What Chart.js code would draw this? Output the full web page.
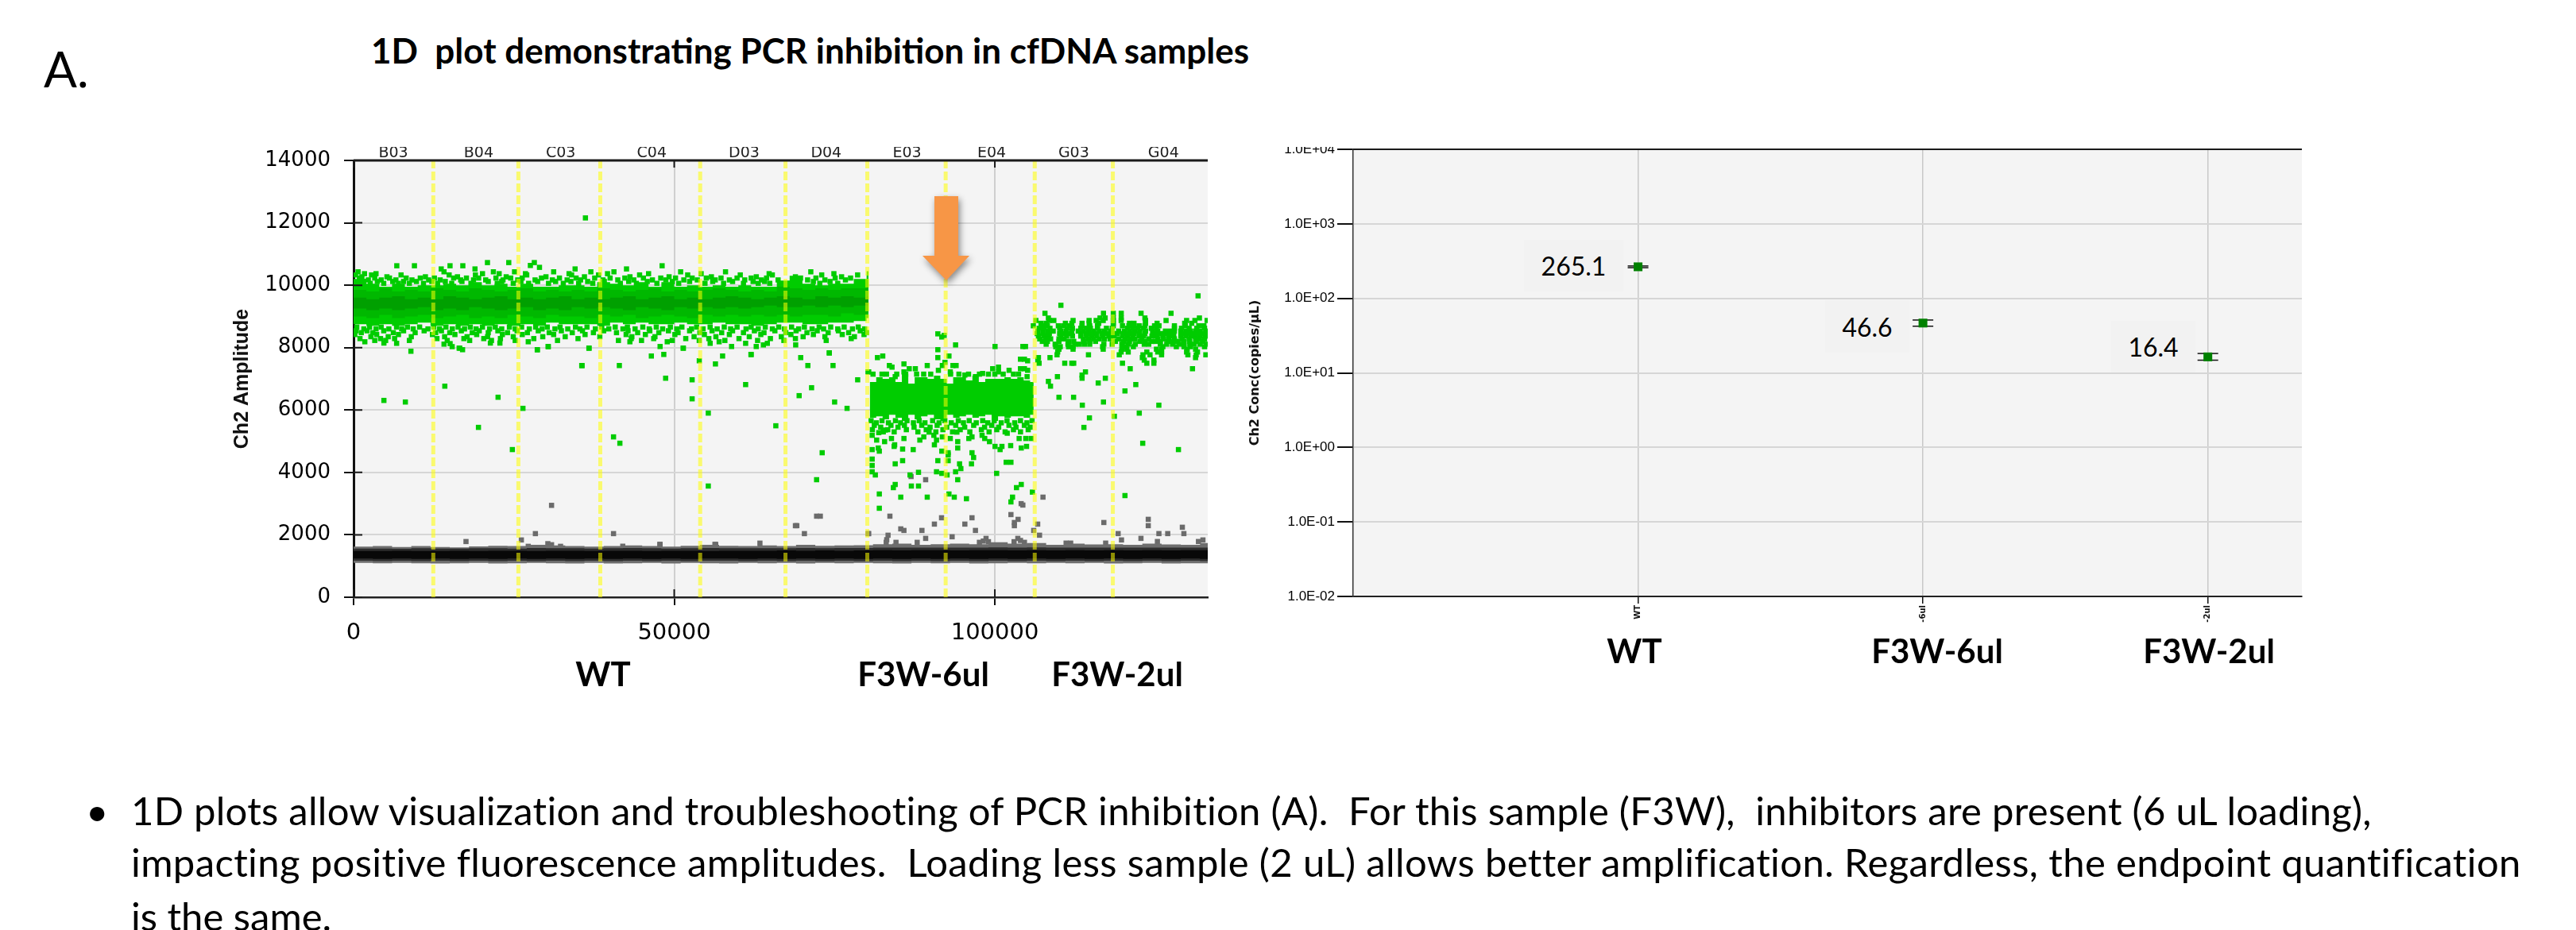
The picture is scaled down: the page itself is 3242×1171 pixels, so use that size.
<!DOCTYPE html>
<html>
<head>
<meta charset="utf-8">
<title>1D plot</title>
<script src="https://cdn.jsdelivr.net/npm/chart.js@4"></script>
<style>
    html, body { margin: 0; padding: 0; background: #fff; }
    #page { position: relative; width: 3242px; height: 1171px; overflow: hidden; font-family: Lato, sans-serif; color: #000; }
    canvas { position: absolute; display: block; }
    .txt { position: absolute; white-space: pre; line-height: 1; }
    .big { font-weight: 700; font-size: 42px; transform: translate(-50%, -50%); }
    .val { position: absolute; background: #f2f2f2; font-size: 32px; display: flex; align-items: center; justify-content: center; }
    #arrow { position: absolute; left: 1150px; top: 240px; filter: drop-shadow(2px 4px 4px rgba(0,0,0,.45)); }
</style>
</head>
<body>
<div id="page">
    <canvas id="amplitudeChart" width="1250" height="645" style="left:290px;top:185px"></canvas>
    <canvas id="concChart" width="1360" height="665" style="left:1560px;top:165px;clip-path:inset(20px 0 0 0)"></canvas>

    <svg id="arrow" width="84" height="124"><polygon points="26,7 56,7 56,82 70,82 41,113 11,82 26,82" fill="#f79646"/></svg>

    <div class="txt" style="left:55px;top:55px;font-size:62px">A.</div>
    <div class="txt" style="left:467px;top:41px;font-size:44px;font-weight:700">1D  plot demonstrating PCR inhibition in cfDNA samples</div>

    <div class="txt big" style="left:759px;top:848px">WT</div>
    <div class="txt big" style="left:1162px;top:848px">F3W-6ul</div>
    <div class="txt big" style="left:1406px;top:848px">F3W-2ul</div>
    <div class="txt big" style="left:2057px;top:819px">WT</div>
    <div class="txt big" style="left:2438px;top:819px">F3W-6ul</div>
    <div class="txt big" style="left:2780px;top:819px">F3W-2ul</div>

    <div class="val" style="left:1918px;top:302px;width:125px;height:65px">265.1</div>
    <div class="val" style="left:2297px;top:378px;width:106px;height:66px">46.6</div>
    <div class="val" style="left:2657px;top:404px;width:106px;height:65px">16.4</div>

    <div class="txt" style="left:108px;top:996px;font-size:49px">•</div>
    <div class="txt" style="left:165px;top:996px;font-size:49px;letter-spacing:.27px">1D plots allow visualization and troubleshooting of PCR inhibition (A).  For this sample (F3W),  inhibitors are present (6 uL loading),</div>
    <div class="txt" style="left:165px;top:1061px;font-size:49px;letter-spacing:.38px">impacting positive fluorescence amplitudes.  Loading less sample (2 uL) allows better amplification. Regardless, the endpoint quantification</div>
    <div class="txt" style="left:165px;top:1129px;font-size:49px">is the same.</div>
</div>

<script>
// ---- 1D plot: axis and wells ----
const xMaxEvents = 133200;
const xTicks = [0, 50000, 100000];
const wellNames = ['B03', 'B04', 'C03', 'C04', 'D03', 'D04', 'E03', 'E04', 'G03', 'G04'];
const wellCenters = [6200, 19500, 32300, 46500, 60900, 73700, 86300, 99500, 112300, 126300];
const wellDividers = [12430, 25700, 38470, 54050, 67350, 80110, 92330, 106220, 118400];

// ---- dense part of the positive droplets, read as upper/lower edges ----
const wtBandX = [0, 2000, 4000, 6000, 8000, 10000, 12000, 14000, 16000, 18000, 20000, 22000, 24000, 26000, 28000, 30000, 32000, 34000, 36000, 38000, 40000, 42000, 44000, 46000, 48000, 50000, 52000, 54000, 56000, 58000, 60000, 62000, 64000, 66000, 68000, 70000, 72000, 74000, 76000, 78000, 80000, 80300];
const wtTop = [10200, 10050, 9950, 10050, 9950, 10000, 10000, 10050, 10000, 10100, 10000, 10050, 9950, 10050, 9950, 9950, 10000, 10000, 9950, 10100, 10050, 10000, 10100, 9950, 10100, 9950, 10000, 9950, 10000, 9950, 10000, 9950, 9950, 10150, 10300, 10050, 10000, 10050, 10050, 10200, 10450, 10450];
const wtBottom = [8750, 8700, 8750, 8700, 8750, 8800, 8700, 8750, 8700, 8750, 8700, 8750, 8700, 8750, 8700, 8800, 8750, 8750, 8750, 8700, 8800, 8750, 8800, 8750, 8750, 8800, 8750, 8750, 8800, 8750, 8750, 8700, 8750, 8800, 8800, 8750, 8750, 8800, 8800, 8850, 8950, 9000];
const wtMidTop = [9850, 9800, 9900, 9800, 9850, 9800, 9900, 9850, 9800, 9900, 9850, 9800, 9850, 9900, 9800, 9850, 9800, 9850, 9800, 9900, 9850, 9800, 9850, 9900, 9800, 9850, 9800, 9850, 9900, 9850, 9800, 9850, 9800, 9950, 9900, 9850, 9900, 9850, 9900, 9900, 9950, 9950];
const wtMidBottom = [9000, 8950, 9050, 8950, 9000, 9050, 8950, 9000, 9050, 8950, 9000, 8950, 9050, 9000, 8950, 9050, 9000, 9000, 8950, 9050, 9000, 9050, 8950, 9000, 9050, 9000, 8950, 9050, 9000, 9050, 9000, 9050, 9000, 9050, 9000, 9050, 9050, 9000, 9100, 9050, 9100, 9100];
const wtCoreTop = [9600, 9550, 9600, 9650, 9550, 9600, 9550, 9650, 9600, 9550, 9600, 9650, 9550, 9600, 9550, 9600, 9650, 9550, 9600, 9550, 9600, 9650, 9550, 9600, 9650, 9550, 9600, 9550, 9600, 9650, 9600, 9550, 9600, 9650, 9600, 9550, 9650, 9600, 9650, 9600, 9650, 9650];
const wtCoreBottom = [9250, 9200, 9250, 9200, 9250, 9300, 9200, 9250, 9200, 9300, 9250, 9200, 9250, 9300, 9200, 9250, 9200, 9300, 9250, 9300, 9250, 9200, 9300, 9250, 9200, 9300, 9250, 9300, 9250, 9300, 9250, 9300, 9350, 9300, 9300, 9350, 9300, 9350, 9300, 9350, 9350, 9350];

const f3w6BandX = [80500, 81500, 82500, 83500, 84500, 85500, 86500, 87500, 88500, 89500, 90500, 91500, 92500, 93500, 94500, 95500, 96500, 97500, 98500, 99500, 100500, 101500, 102500, 103500, 104500, 105500, 106050];
const f3w6Top = [6900, 7050, 7000, 7050, 6900, 7150, 6850, 7050, 7050, 7000, 7100, 7000, 6850, 7050, 7050, 6950, 7100, 6900, 7000, 7000, 7000, 7050, 7000, 7050, 6950, 6900, 6900];
const f3w6Bottom = [5750, 5800, 5700, 5850, 5750, 5650, 5850, 5700, 5800, 5850, 5700, 5650, 5850, 5750, 5800, 5850, 5750, 5800, 5850, 5650, 5800, 5750, 5800, 5800, 5750, 5850, 5750];

// ---- negative droplets, the black ribbon along the bottom ----
const negX = [0, 3000, 6000, 9000, 12000, 15000, 18000, 21000, 24000, 27000, 30000, 33000, 36000, 39000, 42000, 45000, 48000, 51000, 54000, 57000, 60000, 63000, 66000, 69000, 72000, 75000, 78000, 81000, 84000, 87000, 90000, 93000, 96000, 99000, 102000, 105000, 108000, 111000, 114000, 117000, 120000, 123000, 126000, 129000, 132000, 133200];
const negFringeTop = [1620, 1640, 1610, 1640, 1610, 1600, 1630, 1650, 1640, 1680, 1660, 1640, 1620, 1640, 1660, 1640, 1620, 1650, 1680, 1650, 1640, 1660, 1640, 1680, 1650, 1660, 1670, 1700, 1720, 1680, 1700, 1720, 1700, 1760, 1720, 1740, 1680, 1720, 1690, 1700, 1680, 1720, 1690, 1680, 1740, 1740];
const negFringeBottom = [1100, 1090, 1100, 1090, 1080, 1090, 1100, 1080, 1090, 1100, 1090, 1080, 1100, 1080, 1090, 1100, 1080, 1100, 1090, 1080, 1100, 1090, 1100, 1080, 1100, 1090, 1100, 1090, 1080, 1100, 1090, 1100, 1080, 1090, 1100, 1090, 1100, 1090, 1100, 1080, 1090, 1100, 1080, 1090, 1090, 1090];
const negMidTop = [1560, 1560, 1550, 1570, 1560, 1560, 1570, 1570, 1560, 1580, 1570, 1570, 1560, 1570, 1580, 1570, 1560, 1570, 1580, 1570, 1570, 1570, 1570, 1580, 1570, 1580, 1580, 1590, 1590, 1590, 1590, 1590, 1590, 1600, 1590, 1600, 1590, 1590, 1590, 1590, 1590, 1590, 1590, 1590, 1590, 1590];
const negMidBottom = [1170, 1160, 1170, 1160, 1170, 1160, 1170, 1160, 1170, 1160, 1170, 1160, 1170, 1160, 1170, 1160, 1170, 1160, 1170, 1170, 1160, 1170, 1160, 1170, 1160, 1170, 1160, 1170, 1160, 1170, 1160, 1170, 1160, 1170, 1160, 1170, 1160, 1170, 1160, 1170, 1160, 1170, 1160, 1170, 1160, 1160];
const negCoreTop = [1480, 1480, 1490, 1480, 1480, 1490, 1480, 1490, 1490, 1480, 1490, 1490, 1480, 1490, 1490, 1480, 1490, 1490, 1480, 1490, 1490, 1490, 1500, 1490, 1500, 1490, 1500, 1510, 1500, 1510, 1510, 1500, 1510, 1510, 1500, 1510, 1500, 1510, 1500, 1510, 1500, 1510, 1500, 1510, 1510, 1510];
const negCoreBottom = [1240, 1230, 1240, 1230, 1240, 1230, 1240, 1230, 1240, 1230, 1240, 1230, 1240, 1230, 1240, 1230, 1240, 1230, 1240, 1240, 1230, 1240, 1230, 1240, 1230, 1240, 1230, 1240, 1230, 1240, 1230, 1240, 1230, 1240, 1230, 1240, 1230, 1240, 1230, 1240, 1230, 1240, 1230, 1240, 1230, 1230];

// ---- single positive droplets, as rows: [amplitude, [x, x, ...]] ----
const wtEdgeRows = [
    [10430, [700, 14100, 21800, 25100, 31200, 37000, 40600, 51000, 58000, 71300]],
    [10370, [1700, 3500, 20100, 22700, 26800, 33600, 39600, 46000, 54200, 64800, 74900]],
    [10330, [300, 2800, 7400, 14900, 19000, 27000, 34000, 38200, 44600, 52100, 60300, 65300, 73000, 78600]],
    [10270, [1300, 5200, 11200, 16200, 23800, 30000, 36000, 43100, 49200, 55800, 62800, 68900, 76100]],
    [10230, [900, 3300, 5600, 8200, 10400, 12600, 15600, 17600, 19500, 22200, 24500, 26300, 29300, 32100, 34700, 37600, 40000, 42300, 45200, 47900, 50200, 52800, 55000, 57300, 59800, 62000, 64400, 69700, 72100, 75100, 77500]],
    [10170, [2300, 4300, 6600, 9100, 11700, 13500, 16700, 18700, 20600, 23300, 25600, 28300, 31000, 33300, 35400, 38900, 41200, 43700, 46600, 48700, 51500, 53600, 56400, 58600, 61000, 63600, 66200, 70800, 73500, 76700]],
    [10120, [1500, 3700, 6100, 7800, 9800, 12200, 14300, 16900, 21000, 23100, 26100, 28700, 31500, 33900, 36500, 39100, 42900, 45800, 49700, 52400, 56000, 59100, 62300, 64100, 71700, 74300]],
    [10060, [2600, 4700, 7000, 8700, 10900, 13100, 15300, 18300, 22400, 24900, 27300, 30400, 32700, 35100, 37300, 41600, 44100, 47300, 50700, 54800, 57700, 60800, 63100, 64900, 72700, 75500]],
    [8660, [500, 2500, 4300, 6700, 8400, 10300, 12500, 14400, 16300, 18200, 20100, 22100, 24300, 26200, 28400, 30200, 32200, 34600, 36400, 38700, 40800, 42700, 45100, 47200, 49400, 51200, 53500, 55600, 57800, 59800, 62000, 64200, 66300, 68300, 70300, 72600, 74400, 76500, 78700]],
    [8600, [1600, 3500, 5500, 7500, 9300, 11600, 13400, 15400, 17300, 19100, 21200, 23100, 25200, 27400, 29400, 31400, 33400, 35300, 37700, 39800, 42000, 43900, 46100, 48200, 50400, 52700, 54500, 56700, 58800, 61200, 63100, 65300, 67200, 69400, 71500, 73300, 75500, 77800, 79700]],
    [8540, [400, 2100, 4700, 7800, 11000, 13700, 16800, 19600, 22500, 25500, 28800, 32400, 35700, 39000, 42800, 46200, 49100, 52400, 55900, 59100, 62500, 65700, 69000, 72300, 75600, 79000]],
    [8480, [1200, 3000, 6200, 9600, 12800, 15000, 18500, 21000, 24000, 27100, 30500, 34100, 37400, 41000, 44300, 47600, 50600, 54000, 57400, 60800, 64000, 67400, 70700, 74000, 77200, 80000]],
    [8420, [200, 3600, 7000, 12300, 15800, 19200, 23200, 26300, 31200, 36100, 42500, 45500, 50100, 54700, 58600, 63500, 68200, 71700, 76200, 79600]],
    [8350, [2700, 5400, 9000, 14200, 17700, 20900, 24900, 29500, 33000, 38400, 43400, 47000, 53100, 56500, 61700, 66700, 70100, 73500, 78100]],
    [8290, [1000, 4200, 6400, 13000, 17200, 20300, 22900, 28100, 35000, 43300, 46800, 51800, 55400, 60100, 65000, 68900, 77600]],
    [8230, [3300, 5000, 8700, 14600, 18100, 21500, 25200, 31800, 41300, 44900, 49700, 53900, 57900, 63000, 67100, 73700]]
];
const wtOutliers = [
    [36156, 12157], [6738, 10624], [9490, 10624], [20877, 10726], [24199, 10726], [28185, 10726], [27568, 10633], [28990, 10573], [48113, 10624], [17034, 10624], [15041, 10624], [13665, 10522], [18932, 10522], [42561, 10522], [34543, 10522],
    [8941, 7884], [14227, 6765], [4728, 6308], [8074, 6257], [22530, 6410], [26411, 6054], [19472, 5444], [24759, 4733], [40536, 5139], [41527, 4936], [35580, 7426], [36695, 7985], [30334, 8036], [28641, 7934], [41444, 7426],
    [1755, 8188], [6711, 8138], [14103, 8112], [15054, 8129], [16994, 7934], [16458, 7985], [27237, 8188], [21331, 8146], [22818, 8146], [4728, 8146],
    [46433, 7731], [48374, 7782], [48663, 7020], [47796, 8036], [48911, 8188], [51389, 7985], [52793, 6969], [52793, 6359], [53908, 7579], [56428, 7477], [57543, 7731], [55313, 5902], [55313, 3564], [61136, 6816], [61962, 7782], [58947, 8036], [65844, 5495], [69726, 7680], [70841, 7426], [71420, 6715], [69479, 6461], [73072, 4631], [72204, 3767], [74187, 7833], [74765, 7426], [75013, 6257], [76954, 6054], [78606, 6969], [80217, 7223],
    [43088, 8188], [55602, 8138], [57006, 8188], [61136, 8138], [62788, 8036], [63903, 8087], [68941, 8087], [64522, 8138], [35634, 7423], [28660, 7931], [30369, 8032], [36725, 7982], [51434, 7982], [16559, 7982], [15374, 8032], [62007, 7778], [74186, 7829]
];
const f3w6Rows = [
    [7150, [81000, 82400, 83100, 84700, 86100, 87800, 88900, 90000, 93100, 94400, 95900, 97600, 99000, 100000, 101300, 102900, 103700]],
    [5660, [80700, 82400, 84500, 86300, 88200, 90300, 92200, 94300, 96000, 98100, 99900, 101900, 104000, 105800]],
    [5590, [81500, 83400, 85300, 87300, 89100, 91300, 93200, 95100, 97100, 98900, 101000, 103100, 105000]],
    [5510, [81200, 83800, 85900, 88600, 91000, 93900, 96700, 99500, 102200, 104600]],
    [5450, [82200, 84900, 87400, 89900, 92500, 95300, 98400, 100600, 103300, 105500]],
    [5370, [80900, 83300, 86200, 89300, 91900, 94600, 97900, 100300, 102900, 105200]],
    [5300, [82600, 84300, 88000, 90800, 93400, 96100, 99100, 101600, 104000]]
];
const f3w6Outliers = [
    [91110, 8442], [91729, 8341], [92101, 8392], [93877, 8087], [100031, 8036], [104367, 8036], [104780, 8036], [91110, 7934], [81694, 7680], [82520, 7731], [91110, 7680], [92845, 7731], [83552, 7426], [83965, 7375], [85824, 7477], [86650, 7324], [87600, 7324], [89458, 7426], [92225, 7528], [91812, 7426], [93464, 7426], [93960, 7426], [99659, 7324], [100568, 7375], [103996, 7629], [104615, 7629], [105111, 7578], [103996, 7324], [104615, 7324], [105111, 7273], [102220, 7273], [100568, 7223], [98090, 7172], [80331, 7223], [85824, 7223], [91193, 7273], [93051, 7223], [95323, 7121], [96975, 7070], [105029, 7070], [84461, 7070],
    [80868, 5190], [81900, 5275], [82932, 5359], [81570, 5037], [82809, 4987], [83882, 5088], [85824, 5088], [80868, 4732], [81817, 4783], [81983, 4682], [84295, 4834], [85617, 4749], [87269, 4732], [84378, 4885], [88302, 5037], [88921, 5139], [89747, 5292], [90490, 5190], [90903, 5037], [90573, 4885], [91812, 5139], [93051, 5088], [94083, 5292], [94208, 4987], [94208, 4783], [95942, 5088], [96438, 5139], [98007, 5190], [98420, 5088], [99164, 4987], [100031, 4834], [100816, 4732], [101105, 4834], [102467, 4860], [104119, 4783], [104945, 4834], [103789, 5088], [104822, 5088], [105648, 5088], [101931, 5257], [91729, 4682], [92721, 4631], [92721, 4563], [96438, 4631], [96686, 4478], [96355, 4275],
    [80868, 4428], [80868, 4224], [84461, 4275], [85617, 4377], [91110, 4377], [92721, 4377], [94497, 4275], [94703, 4123], [93877, 4021], [94208, 3767], [101765, 4326], [102509, 4326], [80868, 4021], [81363, 3919], [86773, 3919], [88095, 4004], [90903, 4021], [91729, 3970], [92555, 3919], [100279, 3970], [84461, 3614], [84172, 3513], [86980, 3564], [88095, 3564], [104119, 3614], [103376, 3513], [81983, 3309], [85328, 3208], [89458, 3208], [92845, 3309], [93671, 3208], [95570, 3157], [102757, 3208], [102509, 3055], [105854, 3369], [81983, 2852]
];
const f3w2Rows = [
    [9100, [107816, 116940, 118470, 119710, 122800, 127475]],
    [8950, [108350, 116400, 117200, 118470, 119710, 123400, 131900]],
    [8870, [106400, 108500, 109200, 112200, 114700, 115800, 116900, 118470, 119700, 123500, 126700, 129900, 131200, 133100]],
    [8780, [107200, 108000, 111000, 112000, 113600, 114700, 116200, 118470, 121000, 121700, 123500, 125300, 129600, 130700]],
    [8700, [106000, 107400, 108200, 109900, 110700, 111700, 113600, 114800, 116000, 118470, 119900, 120900, 121700, 122500, 123400, 124900, 125600, 128000, 129700, 131800, 132600]],
    [8620, [106900, 107700, 108600, 110100, 111300, 112100, 113400, 114200, 114900, 116000, 117400, 118300, 120700, 121500, 122300, 123200, 124400, 125200, 128000, 129100, 130300, 131500, 132700]],
    [8530, [106700, 107500, 108300, 109100, 110300, 111100, 112000, 113000, 113800, 114600, 115400, 116300, 117100, 118100, 119300, 120200, 121000, 121800, 122600, 123500, 124600, 125400, 126600, 127400, 128000, 129000, 129800, 130500, 131300, 132000, 132900]],
    [8450, [106600, 107500, 108500, 110100, 110900, 111800, 113400, 114200, 115000, 115800, 116700, 117500, 118400, 119100, 120000, 120800, 121700, 122500, 123400, 125000, 125800, 126500, 127300, 129100, 129900, 130700, 131500, 132300, 133100]],
    [8370, [106800, 107700, 108400, 110300, 111200, 112100, 113400, 114300, 115100, 115900, 116800, 117800, 118600, 119900, 120700, 121500, 122500, 123200, 124500, 125300, 126200, 127100, 127900, 129000, 129800, 130600, 131200, 132000, 132800]],
    [8280, [107000, 107900, 108700, 110000, 110800, 113800, 114600, 115400, 116300, 117100, 118000, 119300, 120300, 121100, 121800, 122900, 124000, 125400, 126300, 127100, 128000, 129200, 130300, 131300, 131900, 132700]],
    [8200, [107400, 108200, 110000, 111500, 112300, 113900, 114800, 115700, 118800, 120100, 121000, 122600, 123400, 124500, 125000, 125800, 127000, 127800, 128500, 129500, 130400, 131400, 132400]],
    [8110, [108000, 109400, 111400, 112500, 113200, 114000, 114800, 117000, 118300, 119800, 120800, 121900, 123300, 124000, 125800, 126800, 127700, 128800, 129500, 130400, 131100, 132000, 133000]],
    [8030, [109500, 110200, 111500, 112200, 116800, 119900, 120500, 121600, 126200, 128300, 129500, 130500, 132700]],
    [7950, [110000, 112200, 116900, 119800, 120600, 125200, 126000, 130000, 131300]],
    [7860, [109800, 119700, 120800, 123700, 125400, 126000, 129900, 131600]],
    [7770, [109700, 114600, 119400, 123100, 124200, 126000, 130100, 131400, 132900]],
    [7680, [106800, 108600, 123000, 131300]],
    [7600, [106700, 123300, 124800]],
    [7500, [106900, 110900, 112000, 112300, 119900, 123700, 124800]]
];
const f3w2Outliers = [
    [131690, 9660], [110300, 9357], [121110, 7324], [130820, 7324], [114130, 7222], [113600, 7120], [113600, 7019], [117230, 7019], [109760, 7070], [108350, 6917], [108680, 6765], [116120, 6866], [121980, 6816], [120290, 6612], [110000, 6409], [112280, 6409], [113640, 6155], [116940, 6257], [125575, 6155], [122520, 5901], [118640, 5799], [114750, 5748], [113890, 5443], [123060, 4935], [128630, 4732], [120290, 3258]
];

// ---- rain droplets in grey ----
const greyOutliers = [
    [30871, 2945], [28353, 2039], [40536, 2039], [17531, 1785], [26163, 1836], [30293, 1717], [30871, 1683], [32275, 1632], [27237, 1632], [41977, 1635], [47759, 1694], [56349, 1694], [63366, 1734], [47796, 1692], [56469, 1692],
    [68900, 2293], [70304, 2039], [72204, 2598], [72783, 2598], [80217, 2039], [69119, 2294],
    [86939, 3869], [89210, 3767], [107506, 3208], [104367, 2954], [104100, 3000], [83635, 2598], [102509, 2649], [91688, 2547], [96438, 2547], [90573, 2344], [95323, 2344], [103624, 2496], [103046, 2395], [103046, 2293], [106680, 2344], [85328, 2191], [85824, 2141], [88632, 2141], [96975, 2141], [106061, 2141], [80331, 2039], [106969, 1988], [89210, 1886], [93340, 1938], [83346, 1988], [83139, 1844], [83056, 1760], [84585, 1760], [87889, 1760], [98627, 1886], [103583, 1886], [97594, 1760], [104615, 1760], [98200, 1800], [99000, 1780], [103000, 1780], [104000, 1820],
    [116997, 2395], [123924, 2497], [123924, 2294], [129240, 2243], [119226, 2040], [125585, 2040], [126960, 2040], [129478, 2040], [119750, 1836], [122785, 1887], [125350, 1786], [132450, 1836], [131750, 1786], [117280, 1735], [111110, 1735], [111825, 1735]
];

// ---- concentration plot ----
const sampleNames = ['WT', '-6ul', '-2ul'];
const samplePositions = [1, 2, 3];
const concValues = [265.1, 46.6, 16.4];
const concLow = [258, 42.3, 14.8];
const concHigh = [272, 51.2, 18.2];
const concTicks = [0.01, 0.1, 1, 10, 100, 1000, 10000];
const concTickLabels = ['1.0E-02', '1.0E-01', '1.0E+00', '1.0E+01', '1.0E+02', '1.0E+03', '1.0E+04'];

const greenPoint = 'rgb(0,204,0)';
const greyPoint = '#6b6b6b';

function rowsToPoints(rows) {
    const pts = [];
    rows.forEach(r => r[1].forEach(x => pts.push({ x: x, y: r[0] })));
    return pts;
}

function pairsToPoints(pairs) {
    return pairs.map(p => ({ x: p[0], y: p[1] }));
}

function bandDatasets(xs, top, bottom, color) {
    return [
        { showLine: true, stepped: true, data: xs.map((x, i) => ({ x: x, y: top[i] })), fill: '+1', backgroundColor: color, borderWidth: 0, borderColor: color, pointRadius: 0 },
        { showLine: true, stepped: true, data: xs.map((x, i) => ({ x: x, y: bottom[i] })), fill: false, borderWidth: 0, borderColor: color, pointRadius: 0 }
    ];
}

function dropletDataset(points, color) {
    return { data: points, pointStyle: 'rect', pointRadius: 4.6, pointBackgroundColor: color, pointBorderWidth: 0 };
}

// light grey plot area, top line and the short ticks inside the axes
const plotFrame = {
    id: 'plotFrame',
    beforeDraw(chart) {
        const a = chart.chartArea;
        chart.ctx.save();
        chart.ctx.fillStyle = '#f4f4f4';
        chart.ctx.fillRect(a.left, a.top, a.right - a.left, a.bottom - a.top);
        chart.ctx.restore();
    },
    afterDraw(chart, args, opts) {
        const a = chart.chartArea, ctx = chart.ctx;
        ctx.save();
        ctx.strokeStyle = '#1a1a1a';
        ctx.lineWidth = opts.innerTicks ? 3 : 2;
        ctx.beginPath();
        ctx.moveTo(a.left, a.top);
        ctx.lineTo(a.right, a.top);
        ctx.stroke();
        ctx.lineWidth = 2;
        ctx.beginPath();
        if (opts.innerTicks) {
            chart.scales.y.ticks.forEach(t => {
                const y = chart.scales.y.getPixelForValue(t.value);
                ctx.moveTo(a.left, y);
                ctx.lineTo(a.left + 11, y);
            });
            chart.scales.x.ticks.forEach(t => {
                const x = chart.scales.x.getPixelForValue(t.value);
                ctx.moveTo(x, a.bottom);
                ctx.lineTo(x, a.bottom - 10);
                ctx.moveTo(x, a.top);
                ctx.lineTo(x, a.top + 9);
            });
        }
        ctx.stroke();
        ctx.restore();
    }
};

new Chart(document.getElementById('amplitudeChart'), {
    type: 'scatter',
    data: {
        datasets: [
            // first dataset is drawn on top
            ...wellDividers.map(d => ({
                showLine: true,
                data: [{ x: d, y: 0 }, { x: d, y: 14000 }],
                borderColor: 'rgba(255,255,0,0.55)',
                borderWidth: 5,
                borderDash: [11, 4],
                pointRadius: 0
            })),
            ...bandDatasets(wtBandX, wtCoreTop, wtCoreBottom, '#00a000'),
            ...bandDatasets(wtBandX, wtMidTop, wtMidBottom, '#00b800'),
            ...bandDatasets(wtBandX, wtTop, wtBottom, greenPoint),
            ...bandDatasets(f3w6BandX, f3w6Top, f3w6Bottom, greenPoint),
            dropletDataset(rowsToPoints(wtEdgeRows), greenPoint),
            dropletDataset(pairsToPoints(wtOutliers), greenPoint),
            dropletDataset(rowsToPoints(f3w6Rows), greenPoint),
            dropletDataset(pairsToPoints(f3w6Outliers), greenPoint),
            dropletDataset(rowsToPoints(f3w2Rows), greenPoint),
            dropletDataset(pairsToPoints(f3w2Outliers), greenPoint),
            ...bandDatasets(negX, negCoreTop, negCoreBottom, '#080808'),
            ...bandDatasets(negX, negMidTop, negMidBottom, '#2e2e2e'),
            ...bandDatasets(negX, negFringeTop, negFringeBottom, '#6e6e6e'),
            dropletDataset(pairsToPoints(greyOutliers), greyPoint)
        ]
    },
    plugins: [plotFrame],
    options: {
        responsive: false,
        animation: false,
        events: [],
        layout: { padding: { left: 0, right: 20, top: 0, bottom: 0 } },
        plugins: { legend: { display: false }, tooltip: { enabled: false }, plotFrame: { innerTicks: true } },
        scales: {
            x: {
                type: 'linear',
                min: 0,
                max: xMaxEvents,
                afterBuildTicks(s) { s.ticks = xTicks.map(v => ({ value: v })); },
                afterFit(s) { s.height = 78; s.paddingLeft = 0; s.paddingRight = 0; },
                grid: { color: '#cfcfcf', lineWidth: 2, tickColor: '#111', tickWidth: 2, tickLength: 10 },
                border: { color: '#222', width: 2.5 },
                ticks: { autoSkip: false, color: '#000', font: { family: 'DejaVu Sans', size: 29 }, padding: 18, maxRotation: 0, callback: v => String(v) }
            },
            x2: {
                type: 'linear',
                axis: 'x',
                position: 'top',
                min: 0,
                max: xMaxEvents,
                afterBuildTicks(s) { s.ticks = wellCenters.map(v => ({ value: v })); },
                afterFit(s) { s.height = 17; s.paddingLeft = 0; s.paddingRight = 0; },
                grid: { display: false, drawTicks: false },
                border: { display: false },
                ticks: { autoSkip: false, maxRotation: 0, color: '#222', padding: -2, font: { family: 'DejaVu Sans', size: 19 }, callback: (v, i) => wellNames[i] }
            },
            y: {
                min: 0,
                max: 14000,
                afterFit(s) { s.width = 155; s.paddingTop = 0; s.paddingBottom = 0; },
                title: { display: true, text: 'Ch2 Amplitude', color: '#111', padding: 0, font: { family: 'Liberation Sans', weight: 'bold', size: 25 } },
                grid: { color: '#d6d6d6', lineWidth: 2, tickColor: '#111', tickWidth: 2, tickLength: 12 },
                border: { color: '#111', width: 3 },
                ticks: { stepSize: 2000, color: '#000', font: { family: 'DejaVu Sans', size: 26 }, padding: 17, callback: v => String(v) }
            }
        }
    }
});

new Chart(document.getElementById('concChart'), {
    type: 'scatter',
    data: {
        datasets: [
            {
                data: samplePositions.map((p, i) => ({ x: p, y: concValues[i] })),
                pointStyle: 'rect', pointRadius: 7.8, pointBackgroundColor: '#008000', pointBorderWidth: 0
            },
            {
                data: samplePositions.map((p, i) => ({ x: p, y: concLow[i] })),
                pointStyle: 'line', pointRadius: 13, pointBorderColor: '#111', pointBorderWidth: 1.5
            },
            {
                data: samplePositions.map((p, i) => ({ x: p, y: concHigh[i] })),
                pointStyle: 'line', pointRadius: 13, pointBorderColor: '#111', pointBorderWidth: 1.5
            }
        ]
    },
    plugins: [plotFrame],
    options: {
        responsive: false,
        animation: false,
        events: [],
        layout: { padding: { left: 0, right: 23, top: 23, bottom: 0 } },
        plugins: { legend: { display: false }, tooltip: { enabled: false }, plotFrame: { innerTicks: false } },
        scales: {
            x: {
                type: 'linear',
                min: 0,
                max: 3.33,
                afterBuildTicks(s) { s.ticks = samplePositions.map(v => ({ value: v })); },
                afterFit(s) { s.height = 79; s.paddingLeft = 0; s.paddingRight = 0; },
                grid: { color: '#c8c8c8', lineWidth: 1.5, tickColor: '#111', tickWidth: 1.5, tickLength: 9 },
                border: { color: '#222', width: 2 },
                ticks: { autoSkip: false, minRotation: 90, maxRotation: 90, color: '#111', padding: 2, font: { family: 'DejaVu Sans', weight: 'bold', size: 10 }, callback: (v, i) => sampleNames[i] }
            },
            y: {
                type: 'logarithmic',
                min: 0.01,
                max: 10000,
                afterBuildTicks(s) { s.ticks = concTicks.map(v => ({ value: v, major: true })); },
                afterFit(s) { s.width = 143; s.paddingTop = 0; s.paddingBottom = 0; },
                title: { display: true, text: 'Ch2 Conc(copies/µL)', color: '#111', padding: { top: 10, bottom: 0 }, font: { family: 'DejaVu Sans', weight: 'bold', size: 16 } },
                grid: { color: '#d6d6d6', lineWidth: 2, tickColor: '#111', tickWidth: 2, tickLength: 20 },
                border: { color: '#333', width: 1.5 },
                ticks: { autoSkip: false, color: '#000', padding: 3, font: { family: 'Liberation Sans', size: 17 }, callback: (v, i) => concTickLabels[i] }
            }
        }
    }
});
</script>
</body>
</html>
